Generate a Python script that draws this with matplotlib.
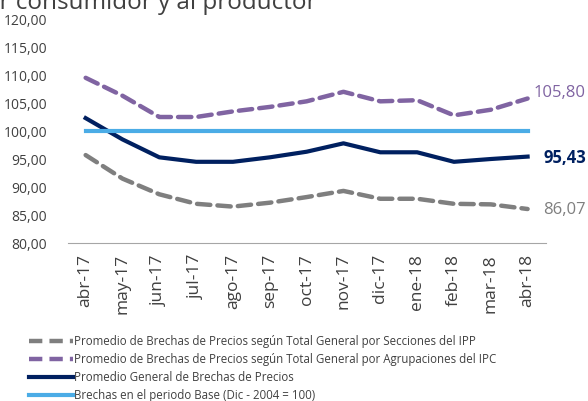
import matplotlib
matplotlib.use("Agg")
import matplotlib.pyplot as plt
from matplotlib.lines import Line2D

plt.rcParams['font.family'] = ['Open Sans', 'DejaVu Sans']

categories = ["abr-17", "may-17", "jun-17", "jul-17", "ago-17", "sep-17", "oct-17",
              "nov-17", "dic-17", "ene-18", "feb-18", "mar-18", "abr-18"]
ipp = [95.7, 91.5, 88.7, 87.0, 86.5, 87.2, 88.2, 89.3, 87.9, 87.9, 87.0, 86.9, 86.07]
ipc = [109.5, 106.3, 102.5, 102.5, 103.5, 104.3, 105.3, 107.0, 105.3, 105.5, 102.8, 103.8, 105.80]
general = [102.3, 98.5, 95.3, 94.5, 94.5, 95.3, 96.3, 97.8, 96.2, 96.2, 94.5, 95.0, 95.43]
base = [100] * 13
yticks = [80, 85, 90, 95, 100, 105, 110, 115, 120]

labels = ["Promedio de Brechas de Precios según Total General por Secciones del IPP",
          "Promedio de Brechas de Precios según Total General por Agrupaciones del IPC",
          "Promedio General de Brechas de Precios",
          "Brechas en el periodo Base (Dic - 2004 = 100)"]

c_gray = "#7F7F7F"
c_purple = "#8064A2"
c_navy = "#002060"
c_blue = "#4BACE6"

fig = plt.figure(figsize=(5.88, 4.01), dpi=100)
ax = fig.add_axes([0.1156, 0.394, 0.813, 0.5586])
x = list(range(len(categories)))
ax.plot(x, ipp, color=c_gray, lw=3.2, dashes=(3, 1.6), dash_capstyle='round')
ax.plot(x, ipc, color=c_purple, lw=3.2, dashes=(3, 1.6), dash_capstyle='round')
ax.plot(x, general, color=c_navy, lw=3.0)
ax.plot(x, base, color=c_blue, lw=3.0)

ax.set_xlim(-0.48, 12.5)
ax.set_ylim(80, 120)
ax.set_yticks(yticks)
ax.set_yticklabels([f"{v:.2f}".replace(".", ",") for v in yticks], fontsize=10, color="#404040")
ax.set_xticks(x)
ax.set_xticklabels(categories, rotation=90, fontsize=12.5, color="#404040")
ax.tick_params(axis="y", length=0, pad=15)
ax.tick_params(axis="x", length=0, pad=8)
for s in ["top", "right", "left"]:
    ax.spines[s].set_visible(False)
ax.spines["bottom"].set_color("#A6A6A6")

xr = 586 / 588
fig.text(xr, 1 - 93 / 401, "105,80", color=c_purple, fontsize=12, va="center", ha="right")
fig.text(xr, 1 - 158 / 401, "95,43", color=c_navy, fontsize=12, fontweight="bold", va="center", ha="right")
fig.text(xr, 1 - 210 / 401, "86,07", color=c_gray, fontsize=12, va="center", ha="right")

fig.text(316 / 588, 1 - 9 / 401, "por consumidor y al productor", fontsize=17.5, color="#404040",
         ha="right", va="baseline")

handles = [Line2D([], [], color=c_gray, lw=3.2, dashes=(3, 1.6)),
           Line2D([], [], color=c_purple, lw=3.2, dashes=(3, 1.6)),
           Line2D([], [], color=c_navy, lw=3.0),
           Line2D([], [], color=c_blue, lw=3.0)]
fig.legend(handles, labels, loc="upper left", bbox_to_anchor=(0.05, 0.165), frameon=False,
           fontsize=8.3, handlelength=3.8, handletextpad=0.1, labelspacing=0.45,
           labelcolor="#404040", borderaxespad=0, borderpad=0)

fig.savefig("out.png", dpi=100)
